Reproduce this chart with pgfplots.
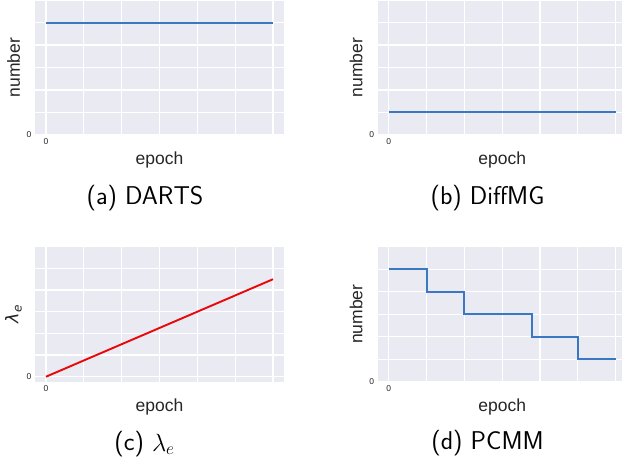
\documentclass[border=0pt]{standalone}
\usepackage{fontspec}
\usepackage{pgfplots}
\pgfplotsset{compat=1.18}
\newfontfamily\labelfont{Liberation Sans}
\newfontfamily\dejavu{DejaVu Sans}
\definecolor{sbbg}{HTML}{EAEAF2}
\definecolor{lblue}{HTML}{3A78C4}
\definecolor{lred}{HTML}{E8080A}
\definecolor{tickc}{HTML}{262626}
\pgfplotsset{
 panel/.style={
  scale only axis, width=249pt, height=135pt, anchor=south west,
  axis background/.style={fill=sbbg},
  axis line style={draw=none},
  grid=major, major grid style={white, line width=1.2pt},
  tick style={draw=none},
  xmin=-0.29, xmax=6.29,
  xtick={0,...,6}, xticklabels={0,,,,,,},
  ytick={0,...,6}, yticklabels={0,,,,,,},
  ymin=0, ymax=6,
  ticklabel style={font=\labelfont\fontsize{8.5}{10}\selectfont, text=tickc},
  /pgf/number format/assume math mode=true,
  xlabel={epoch}, ylabel={number},
  label style={font=\labelfont\fontsize{17.5}{20}\selectfont, text=tickc},
  xlabel style={at={(axis description cs:0.5,-0.2222)}, anchor=base},
  ylabel style={at={(axis description cs:-0.0863,0.5)}, anchor=center},
 }
}
\begin{document}
\begin{tikzpicture}
\path[use as bounding box] (0,0) rectangle (622pt,464pt);
% (a)
\begin{axis}[panel, at={(35pt,329pt)}]
\addplot[lblue, line width=2pt] coordinates {(0,5) (6,5)};
\end{axis}
% (b)
\begin{axis}[panel, at={(377.7pt,329pt)}]
\addplot[lblue, line width=2pt] coordinates {(0,1) (6,1)};
\end{axis}
% (c)
\begin{axis}[panel, at={(35pt,82.3pt)}, ymin=-0.23, ymax=6,
  ylabel={{\dejavu\itshape λ}\raisebox{-0.35ex}{\dejavu\itshape\fontsize{12}{14}\selectfont e}}]
\addplot[lred, line width=1.9pt] coordinates {(0,0) (6,4.5)};
\end{axis}
% (d)
\begin{axis}[panel, at={(377.7pt,82.3pt)}]
\addplot[lblue, line width=2pt, const plot] coordinates {(0,5) (1,4) (2,3) (3.8,2) (5,1) (6,1)};
\end{axis}
\begin{scope}[every node/.style={anchor=base, font=\sffamily\fontsize{25.7}{30}\selectfont}]
\node at (145pt,259pt) {(a) DARTS};
\node at (487.5pt,259pt) {(b) DiffMG};
\node at (144.5pt,13pt) {(c) $\lambda_e$};
\node at (487.5pt,14pt) {(d) PCMM};
\end{scope}
\end{tikzpicture}
\end{document}
